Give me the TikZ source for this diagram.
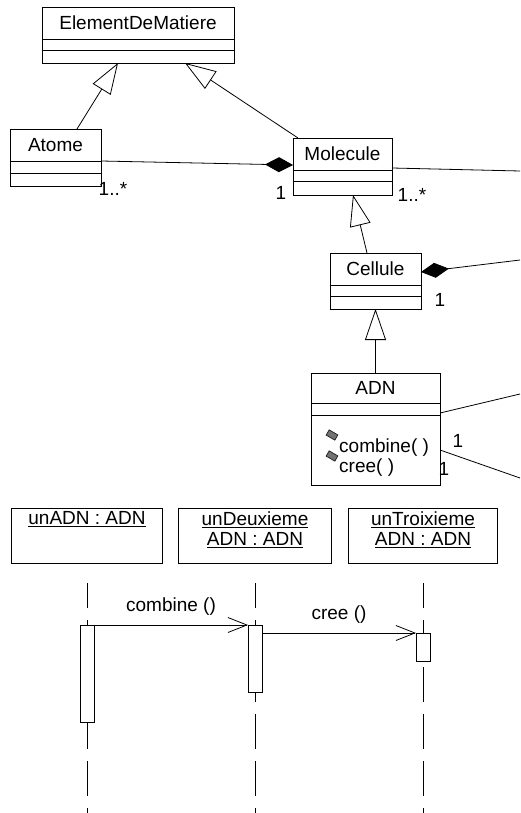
\documentclass[tikz,border=0pt]{standalone}
\usepackage{fontspec}
\setmainfont{Liberation Sans}
\usetikzlibrary{arrows.meta,positioning}
\tikzset{
    cls/.style={rectangle, draw, line width=0.8pt, inner sep=0pt, outer sep=0pt,
                minimum width=#1, minimum height=32pt, anchor=north west},
    clspart/.style={rectangle, draw, line width=0.8pt, inner sep=0pt, outer sep=0pt,
                    minimum width=#1, minimum height=12pt},
    inh/.style={-{Triangle[open, length=31pt, width=21pt]}, line width=0.8pt},
    comp/.style={{Diamond[length=28pt, width=15pt]}-, line width=0.8pt},
    assoc/.style={line width=0.8pt},
    mult/.style={inner sep=0pt},
    objbox/.style={rectangle, draw, line width=0.8pt, inner sep=0pt, outer sep=0pt,
                   minimum width=#1, minimum height=55pt},
    objtxt/.style={align=center, inner sep=0pt, anchor=north},
    lifeline/.style={line width=0.8pt, dash pattern=on 35pt off 12pt, dash phase=10pt},
    actbox/.style={rectangle, draw, fill=white, line width=0.8pt, inner sep=0pt,
                   outer sep=0pt, minimum width=14pt},
    msg/.style={-{Straight Barb[length=19pt, width=15pt]}, line width=0.8pt},
    opicon/.style={rectangle, draw=black!85, fill=black!55, line width=0.8pt,
                   minimum width=10pt, minimum height=6pt, inner sep=0pt, rotate=-30},
}

\begin{document}
\begin{tikzpicture}[x=1pt, y=-1pt, font=\fontsize{19pt}{20pt}\selectfont]
    \useasboundingbox (0,0) rectangle (520,813);

    % class diagram
    \node[cls=192pt] (edm) at (42,7) {ElementDeMatiere};
    \node[clspart=192pt, minimum height=11pt, below=0pt of edm]   (edm-a) {};
    \node[clspart=192pt, minimum height=13pt, below=0pt of edm-a] (edm-o) {};

    \node[cls=91pt] (atome) at (10,129) {Atome};
    \node[clspart=91pt, below=0pt of atome]                         (atome-a) {};
    \node[clspart=91pt, minimum height=13pt, below=0pt of atome-a]  (atome-o) {};

    \node[cls=99pt] (mol) at (293,138) {Molecule};
    \node[clspart=99pt, minimum height=11pt, below=0pt of mol]    (mol-a) {};
    \node[clspart=99pt, minimum height=14pt, below=0pt of mol-a]  (mol-o) {};

    \node[cls=91pt] (cel) at (330,253) {Cellule};
    \node[clspart=91pt, minimum height=11pt, below=0pt of cel]    (cel-a) {};
    \node[clspart=91pt, minimum height=13pt, below=0pt of cel-a]  (cel-o) {};

    \node[cls=129pt, minimum height=30pt] (adn) at (311,373) {ADN};
    \node[clspart=129pt, below=0pt of adn]                         (adn-a) {};
    \node[clspart=129pt, minimum height=70pt, below=0pt of adn-a]  (adn-o) {};

    \node[opicon] (ic1) at (332,435) {};
    \node[anchor=base west, inner sep=0pt] (op1) at (339,452) {combine( )};
    \node[opicon] (ic2) at (332,456) {};
    \node[anchor=base west, inner sep=0pt] (op2) at (339,472) {cree( )};

    \draw[inh] ([xshift=21.5pt]atome.north) -- ([xshift=-20pt]edm-o.south);
    \draw[inh] ([xshift=5pt]mol.north west) -- ([xshift=47pt]edm-o.south);
    \draw[inh] ([xshift=-8.5pt]cel.north) -- ([xshift=10.5pt]mol-o.south);
    \draw[inh] (adn.north) -- (cel-o.south);

    \coordinate (r1) at (520,171);
    \coordinate (r2) at (520,260);
    \coordinate (r3) at (520,394);
    \coordinate (r4) at (520,478);
    \draw[comp] ([yshift=5pt]mol.south west) -- (atome.south east);
    \draw[comp] ([yshift=-3pt]cel.east) -- (r2);
    \draw[assoc] ([yshift=2pt]mol.south east) -- (r1);
    \draw[assoc] ([yshift=2pt]adn-a.south east) -- (r3);
    \draw[assoc] (adn-o.east) -- (r4);

    \node[mult] (m1) at (113,189) {1..*};
    \node[mult] (m2) at (281,193) {1};
    \node[mult] (m3) at (412,195) {1..*};
    \node[mult] (m4) at (440,300) {1};
    \node[mult] (m5) at (458,441) {1};
    \node[mult] (m6) at (444,469) {1};

    % sequence diagram
    \node[objbox=151pt] (o1) at (87,535.5) {};
    \node[objtxt] (t1) at ([yshift=-3.5pt]o1.north) {\underline{unADN : ADN}};
    \node[objbox=153pt] (o2) at (255,535.5) {};
    \node[objtxt] (t2) at ([yshift=-3.5pt]o2.north) {\underline{unDeuxieme}\\\underline{ADN : ADN}};
    \node[objbox=149pt] (o3) at (423,535.5) {};
    \node[objtxt] (t3) at ([yshift=-3.5pt]o3.north) {\underline{unTroixieme}\\\underline{ADN : ADN}};

    \foreach \o in {1,2,3}
        \draw[lifeline] ([yshift=-20pt]o\o.south) -- ([yshift=-250pt]o\o.south);

    \node[actbox, minimum height=97pt, below=62pt of o1] (a1) {};
    \node[actbox, minimum height=67pt, below=62pt of o2] (a2) {};
    \node[actbox, minimum height=28pt, below=70pt of o3] (a3) {};

    \draw[msg] (a1.north east) -- node[above=9pt, inner sep=0pt] (lb1) {combine ()} (a2.north west);
    \draw[msg] (a2.east |- a3.north) -- node[above=9pt, inner sep=0pt] (lb2) {cree ()} (a3.north west);
\end{tikzpicture}
\end{document}
